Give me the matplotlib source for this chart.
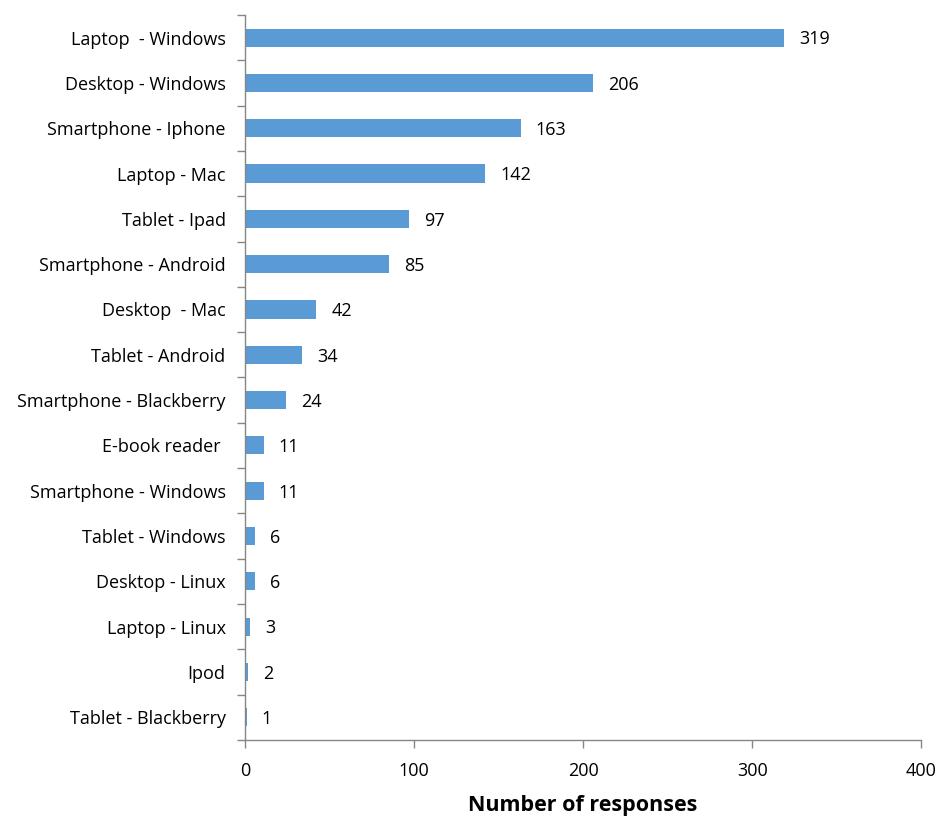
import matplotlib.pyplot as plt
from matplotlib.ticker import FixedLocator, NullFormatter

plt.rcParams['font.family'] = ['Open Sans', 'DejaVu Sans']

# device categories, top to bottom
devices = [
    "Laptop  - Windows", "Desktop - Windows", "Smartphone - Iphone", "Laptop - Mac",
    "Tablet - Ipad", "Smartphone - Android", "Desktop  - Mac", "Tablet - Android",
    "Smartphone - Blackberry", "E-book reader ", "Smartphone - Windows", "Tablet - Windows",
    "Desktop - Linux", "Laptop - Linux", "Ipod", "Tablet - Blackberry",
]
responses = [319, 206, 163, 142, 97, 85, 42, 34, 24, 11, 11, 6, 6, 3, 2, 1]
x_ticks = [0, 100, 200, 300, 400]

fig = plt.figure(figsize=(9.4, 8.18), dpi=100)
ax = fig.add_axes([0.2606, 0.0954, 0.98 - 0.2606, 0.9817 - 0.0954])

n = len(devices)
ypos = list(range(n))[::-1]
ax.barh(ypos, responses, height=0.4, color='#5B9BD5', zorder=2)

for y, v in zip(ypos, responses):
    ax.text(v + 9, y - 0.04, str(v), va='center', ha='left', fontsize=13, color='black')

ax.set_xlim(0, 400)
ax.set_ylim(-0.5, n - 0.5)

ax.set_xticks(x_ticks)
ax.set_xticklabels([str(t) for t in x_ticks], fontsize=13)

# labels at category centres, tick marks at boundaries
ax.set_yticks(ypos)
ax.set_yticklabels(devices, fontsize=13)
ax.tick_params(axis='y', which='major', length=0, pad=14)
ax.yaxis.set_minor_locator(FixedLocator([i - 0.5 for i in range(n + 1)]))
ax.yaxis.set_minor_formatter(NullFormatter())
ax.tick_params(axis='y', which='minor', length=6, color='#868686', width=1)
ax.tick_params(axis='x', length=6, color='#868686', width=1, pad=10)

for side in ['top', 'right']:
    ax.spines[side].set_visible(False)
for side in ['left', 'bottom']:
    ax.spines[side].set_color('#868686')
    ax.spines[side].set_linewidth(1)

ax.set_xlabel('Number of responses', fontsize=15.5, fontweight='bold', labelpad=11)

fig.savefig('out.png', dpi=100, facecolor='white')
